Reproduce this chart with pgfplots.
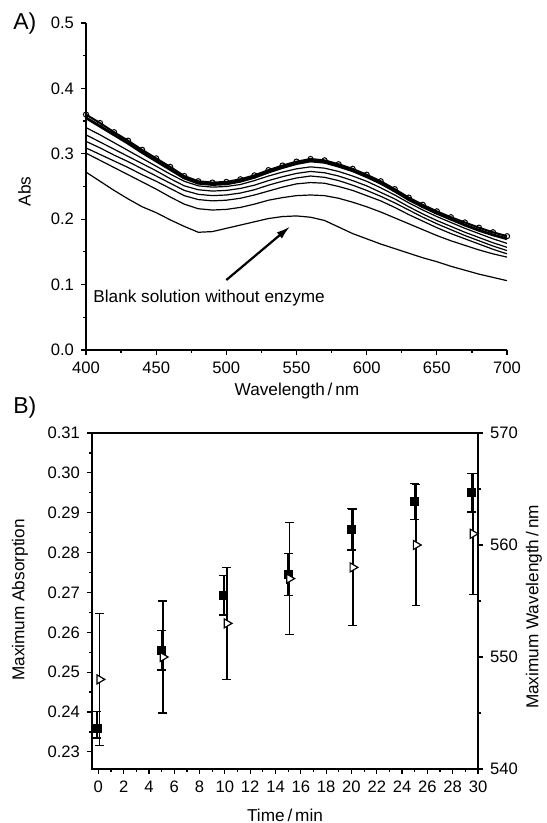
\documentclass[border=0pt]{standalone}
\usepackage{fontspec}
\setmainfont{Liberation Sans}
\usepackage{pgfplots}
\usepackage{pgfplotstable}
\pgfplotsset{compat=1.18}
\usetikzlibrary{arrows.meta}

\pgfplotstableread{
wl b t0 t5 t10 t15 t20 t25 t30
400 .272 .301 .309 .319 .329 .340 .355 .360
410 .258 .290 .299 .309 .318 .329 .342 .347
420 .244 .279 .289 .298 .307 .317 .329 .333
430 .231 .268 .279 .288 .296 .305 .316 .320
440 .219 .257 .268 .277 .285 .293 .302 .306
450 .210 .246 .258 .266 .274 .281 .289 .293
460 .199 .234 .247 .255 .262 .269 .276 .280
470 .189 .223 .236 .244 .251 .258 .263 .266
480 .180 .216 .230 .238 .245 .251 .255 .258
490 .181 .214 .228 .236 .243 .249 .253 .256
500 .186 .215 .229 .237 .244 .250 .254 .257
510 .191 .218 .232 .240 .247 .253 .258 .261
520 .196 .223 .237 .245 .252 .259 .264 .267
530 .201 .229 .243 .252 .259 .266 .272 .275
540 .204 .233 .249 .258 .265 .272 .279 .282
550 .205 .236 .254 .263 .270 .277 .285 .288
560 .203 .237 .256 .266 .273 .280 .289 .292
570 .198 .236 .255 .264 .271 .278 .287 .290
580 .188 .232 .250 .259 .266 .273 .281 .284
590 .178 .226 .244 .252 .259 .266 .274 .277
600 .170 .219 .236 .244 .251 .258 .265 .268
610 .162 .211 .228 .235 .241 .248 .255 .258
620 .155 .202 .218 .225 .231 .237 .243 .246
630 .148 .193 .207 .214 .219 .225 .230 .233
640 .141 .184 .197 .203 .208 .214 .219 .222
650 .135 .175 .187 .193 .198 .204 .209 .212
660 .128 .167 .178 .184 .189 .195 .200 .203
670 .122 .160 .170 .175 .180 .186 .191 .195
680 .116 .153 .162 .167 .172 .178 .183 .187
690 .111 .147 .154 .159 .164 .170 .176 .180
700 .106 .142 .147 .152 .157 .163 .170 .174
}\spectra

\pgfplotstableread{
t a ep em
-0.1 0.2360 0.0042 0.0025
5.0 0.2555 0.0050 0.0050
9.9 0.2693 0.0050 0.0050
15.0 0.2745 0.0053 0.0053
20.0 0.2858 0.0052 0.0052
25.0 0.2928 0.0045 0.0045
29.5 0.2950 0.0048 0.0048
}\absdata

\pgfplotstableread{
t w e
0.1 548 5.9
5.1 550 5.0
10.15 553 5.0
15.1 557 5.0
20.1 558 5.2
25.1 560 5.4
29.6 561 5.4
}\wldata

\pgfplotsset{
  myaxis/.style={
    scale only axis,
    anchor=south west,
    tick align=outside,
    major tick length=2.5pt,
    minor tick length=1.5pt,
    axis line style={line width=0.75pt},
    every tick/.style={black, line width=0.6pt},
    tick label style={font=\fontsize{8.3}{10}\selectfont},
    /pgf/number format/assume math mode=true,
  }
}

\begin{document}
\begin{tikzpicture}
\useasboundingbox (0,0) rectangle (273pt,411.5pt);

% ---------- Panel A ----------
\begin{axis}[myaxis,
  at={(43pt,236.5pt)}, width=210.5pt, height=163.5pt,
  xmin=400, xmax=700, ymin=0, ymax=0.5,
  axis lines*=left,
  xtick={400,450,500,550,600,650,700},
  ytick={0,0.1,0.2,0.3,0.4,0.5},
  minor x tick num=1, minor y tick num=1,
  yticklabel style={/pgf/number format/.cd, fixed, fixed zerofill, precision=1},
  xticklabel style={/pgf/number format/.cd, fixed, precision=0},
  clip=false,
]
\addplot[black, line width=0.6pt] table[x=wl, y=b] {\spectra};
\addplot[black, line width=0.6pt] table[x=wl, y=t0] {\spectra};
\addplot[black, line width=0.6pt] table[x=wl, y=t5] {\spectra};
\addplot[black, line width=0.6pt] table[x=wl, y=t10] {\spectra};
\addplot[black, line width=0.6pt] table[x=wl, y=t15] {\spectra};
\addplot[black, line width=0.6pt] table[x=wl, y=t20] {\spectra};
\addplot[black, line width=1.4pt] table[x=wl, y=t25] {\spectra};
\addplot[black, line width=1.0pt, mark=o, mark size=1.3pt, mark options={line width=0.5pt, fill=white}] table[x=wl, y=t30] {\spectra};
\draw[-{Latex[length=7pt,width=4pt]}, line width=1.1pt] (axis cs:500,0.107) -- (axis cs:545.5,0.189);
\node[anchor=west, inner sep=0pt, font=\fontsize{8.6}{10}\selectfont] at (axis cs:405,0.079) {Blank solution without enzyme};
\end{axis}

% ---------- Panel B ----------
\begin{axis}[myaxis,
  at={(46pt,27pt)}, width=193pt, height=168pt,
  xmin=-0.5, xmax=30, ymin=0.2257, ymax=0.31,
  xtick={0,2,...,30},
  ytick={0.23,0.24,0.25,0.26,0.27,0.28,0.29,0.30,0.31},
  minor x tick num=1, minor y tick num=1,
  xtick pos=left, ytick pos=left,
  yticklabel style={/pgf/number format/.cd, fixed, fixed zerofill, precision=2},
  clip=false,
]
\addplot[black, only marks, mark=square*, mark size=2pt,
  error bars/.cd, y dir=both, y explicit,
  error bar style={black, line width=0.9pt},
  error mark options={black, rotate=90, mark size=2.2pt, line width=0.7pt}]
  table[x=t, y=a, y error plus=ep, y error minus=em] {\absdata};
\end{axis}

\begin{axis}[myaxis,
  at={(46pt,27pt)}, width=193pt, height=168pt,
  xmin=-0.5, xmax=30, ymin=540, ymax=570,
  axis x line=none, axis y line*=right,
  ytick={540,550,560,570},
  minor y tick num=1,
  clip=false,
]
\addplot[black, only marks, mark=triangle*, mark size=2.6pt,
  mark options={rotate=-90, fill=white, line width=0.6pt},
  error bars/.cd, y dir=both, y explicit,
  error bar style={black, line width=0.9pt},
  error mark options={black, rotate=90, mark size=2.2pt, line width=0.7pt}]
  table[x=t, y=w, y error=e] {\wldata};
\end{axis}

% ---------- labels ----------
\node[anchor=west, inner sep=0pt, font=\fontsize{11.5}{12}\selectfont] at (6.5pt,399.75pt) {A)};
\node[rotate=90, font=\fontsize{8.6}{10}\selectfont] at (12.25pt,315.75pt) {Abs};
\node[font=\fontsize{8.6}{10}\selectfont] at (148.5pt,216pt) {Wavelength\,/\,nm};
\node[anchor=west, inner sep=0pt, font=\fontsize{11.5}{12}\selectfont] at (6.5pt,207.5pt) {B)};
\node[rotate=90, font=\fontsize{8.6}{10}\selectfont] at (10pt,111.5pt) {Maximum Absorption};
\node[rotate=90, font=\fontsize{8.6}{10}\selectfont] at (267pt,108pt) {Maximum Wavelength\,/\,nm};
\node[font=\fontsize{8.6}{10}\selectfont] at (142.5pt,4pt) {Time\,/\,min};
\end{tikzpicture}
\end{document}
